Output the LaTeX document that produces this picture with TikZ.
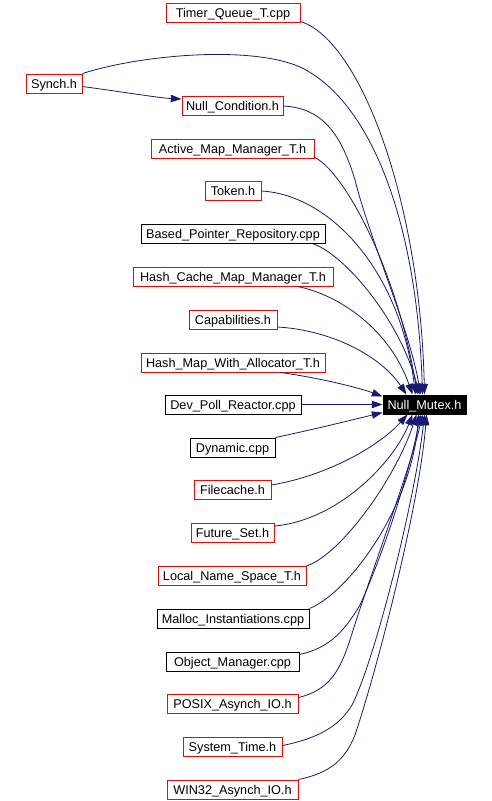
\documentclass[tikz,border=0pt]{standalone}
\usepackage{fontspec}
\setmainfont{Liberation Sans}
\usetikzlibrary{arrows.meta}
\definecolor{edgeblue}{HTML}{191970}
\definecolor{boxred}{HTML}{FF0000}
\begin{document}
\begin{tikzpicture}[x=0.75pt,y=-0.75pt,
  box/.style={draw=#1, line width=0.75pt, fill=white, minimum height=19*0.75pt,
    inner sep=0pt, text height=8.6pt, text depth=1.8pt, font=\fontsize{9.5}{11}\selectfont},
  redbox/.style={box=boxred},
  blackbox/.style={box=black},
  edge/.style={draw=edgeblue, line width=0.6pt,
    -{Triangle[length=8pt,width=5.5pt]}}]
\useasboundingbox (0,0) rectangle (492,801);

\node[redbox, minimum width=134*0.75pt] (tq) at (233,12.5) {Timer\_Queue\_T.cpp};
\node[redbox, minimum width=56*0.75pt] (synch) at (54,83.5) {Synch.h};
\node[redbox, minimum width=101*0.75pt] (nc) at (232.5,106) {Null\_Condition.h};
\node[redbox, minimum width=163*0.75pt] (am) at (232.5,148.5) {Active\_Map\_Manager\_T.h};
\node[redbox, minimum width=56*0.75pt] (tk) at (233,191) {Token.h};
\node[blackbox, minimum width=184*0.75pt] (bp) at (233,234) {Based\_Pointer\_Repository.cpp};
\node[redbox, minimum width=200*0.75pt] (hc) at (233,276.5) {Hash\_Cache\_Map\_Manager\_T.h};
\node[redbox, minimum width=88*0.75pt] (cap) at (233,320) {Capabilities.h};
\node[redbox, minimum width=184*0.75pt] (hw) at (233,362.5) {Hash\_Map\_With\_Allocator\_T.h};
\node[blackbox, minimum width=136*0.75pt] (dp) at (233,404.5) {Dev\_Poll\_Reactor.cpp};
\node[box=black, fill=black, text=white, minimum width=83*0.75pt]
  (nm) at (424.5,404.5) {Null\_Mutex.h};
\node[blackbox, minimum width=85*0.75pt] (dy) at (232.5,447.5) {Dynamic.cpp};
\node[redbox, minimum width=77*0.75pt] (fc) at (232.5,490) {Filecache.h};
\node[redbox, minimum width=83*0.75pt] (fs) at (232.5,533) {Future\_Set.h};
\node[redbox, minimum width=148*0.75pt] (ln) at (232,576) {Local\_Name\_Space\_T.h};
\node[blackbox, minimum width=152*0.75pt] (ma) at (233,618.5) {Malloc\_Instantiations.cpp};
\node[blackbox, minimum width=133*0.75pt] (om) at (232.5,661.5) {Object\_Manager.cpp};
\node[redbox, minimum width=131*0.75pt] (posix) at (232.5,703.5) {POSIX\_Asynch\_IO.h};
\node[redbox, minimum width=99*0.75pt] (st) at (232.5,746.5) {System\_Time.h};
\node[redbox, minimum width=131*0.75pt] (wn) at (232.5,789.5) {WIN32\_Asynch\_IO.h};

\draw[edge] ([shift={(0,-1)}]tq.south east) .. controls (360,40) and (420,200) .. (nm.north);
\draw[edge] (synch.north east) .. controls (140,55) and (250,45) .. (300,67)
  .. controls (370,100) and (417,220) .. ([shift={(-2,0)}]nm.north);
\draw[edge] ([shift={(0,3)}]synch.east) .. controls (130,93) and (160,98) .. ([shift={(0,-7)}]nc.west);
\draw[edge] (nc.east) .. controls (320,108) and (340,130) .. (355,180)
  .. controls (370,240) and (410,330) .. ([shift={(-4,0)}]nm.north);
\draw[edge] ([shift={(0,-1)}]am.south east) .. controls (340,168) and (395,260) .. ([shift={(-7,0)}]nm.north);
\draw[edge] (tk.east) .. controls (330,195) and (400,270) .. ([shift={(-9,0)}]nm.north);
\draw[edge] ([shift={(-12,0)}]bp.south east) .. controls (345,255) and (400,320) .. ([shift={(-5,0)}]nm.north);
\draw[edge] ([shift={(-36,0)}]hc.south east) .. controls (340,295) and (390,330) .. ([shift={(-12,0)}]nm.north);
\draw[edge] ([shift={(0,-3)}]cap.south east) .. controls (330,330) and (380,355) .. ([shift={(-18,0)}]nm.north);
\draw[edge] ([shift={(-45,0)}]hw.south east) .. controls (320,378) and (360,388) .. ([shift={(0,-8)}]nm.west);
\draw[edge] (dp.east) -- (nm.west);
\draw[edge] (dy.north east) .. controls (320,428) and (360,418) .. ([shift={(0,8)}]nm.west);
\draw[edge] ([shift={(0,-5)}]fc.east) .. controls (330,475) and (380,445) .. ([shift={(-17,0)}]nm.south);
\draw[edge] ([shift={(0,-7)}]fs.east) .. controls (340,520) and (395,460) .. ([shift={(-12,0)}]nm.south);
\draw[edge] (ln.north east) .. controls (340,555) and (395,480) .. ([shift={(-8,0)}]nm.south);
\draw[edge] (ma.north east) .. controls (350,592) and (412,505) .. ([shift={(-6,0)}]nm.south);
\draw[edge] ([shift={(0,3)}]om.north east) .. controls (330,648) and (345,630) .. (360,605)
  .. controls (385,550) and (410,470) .. ([shift={(-4,0)}]nm.south);
\draw[edge] ([shift={(0,4)}]posix.north east) .. controls (330,690) and (340,670) .. (350,640)
  .. controls (365,590) and (410,470) .. ([shift={(-2,0)}]nm.south);
\draw[edge] ([shift={(0,-1)}]st.east) .. controls (320,738) and (340,725) .. (352,705)
  .. controls (375,660) and (415,500) .. (nm.south);
\draw[edge] (wn.north east) .. controls (330,773) and (345,760) .. (355,735)
  .. controls (380,660) and (420,500) .. ([shift={(2,0)}]nm.south);
\end{tikzpicture}
\end{document}
